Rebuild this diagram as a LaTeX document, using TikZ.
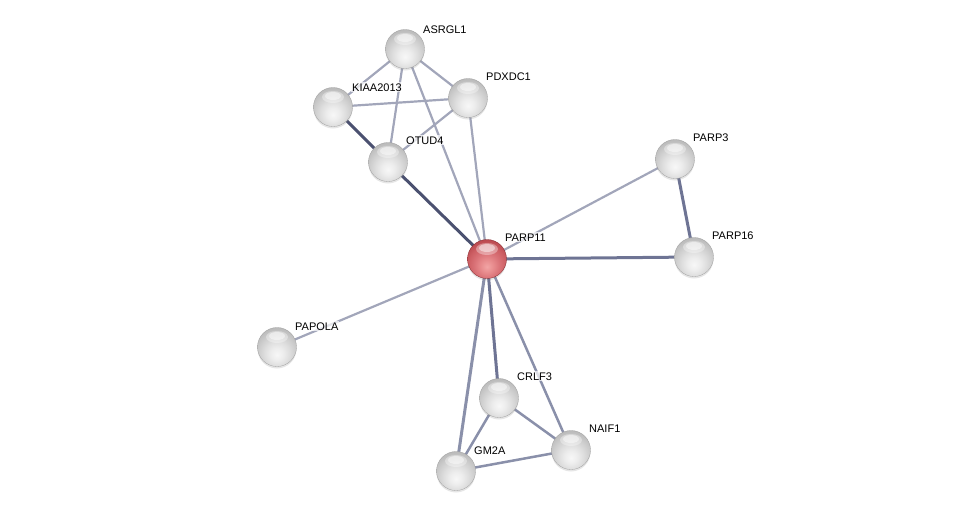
\documentclass[tikz,border=0pt]{standalone}
\usepackage{fontspec}
\setmainfont{Liberation Sans}
\usetikzlibrary{shadows}
\definecolor{edark}{HTML}{4B5170}
\definecolor{emid}{HTML}{6E7494}
\definecolor{elite}{HTML}{8A90AA}
\definecolor{epale}{HTML}{A2A6BA}
\definecolor{rA}{RGB}{242,165,165}
\definecolor{rB}{RGB}{232,140,142}
\definecolor{rC}{RGB}{218,115,120}
\definecolor{rD}{RGB}{205,95,100}
\definecolor{rE}{RGB}{185,72,78}
\definecolor{rF}{RGB}{160,50,58}
\definecolor{rG}{RGB}{135,38,44}
\definecolor{rRim}{RGB}{130,40,45}
\pgfdeclareradialshading{gball}{\pgfpoint{0bp}{-10bp}}{color(0bp)=(gray!6); color(8bp)=(gray!14); color(16bp)=(gray!26); color(24bp)=(gray!40); color(32bp)=(gray!55); color(40bp)=(gray!68); color(100bp)=(gray!75)}
\pgfdeclareradialshading{rball}{\pgfpoint{0bp}{-10bp}}{color(0bp)=(rA); color(8bp)=(rB); color(16bp)=(rC); color(24bp)=(rD); color(32bp)=(rE); color(40bp)=(rF); color(100bp)=(rG)}
\tikzset{
  prot/.style={circle, minimum size=39pt, inner sep=0pt, shading=gball, draw=gray!75, line width=0.3pt,
    drop shadow={shadow xshift=0pt, shadow yshift=-2pt, opacity=0.2, fill=gray},
    path picture={\fill[white, opacity=0.35] ([yshift=10pt]path picture bounding box.center) ellipse (11pt and 6pt);
      \fill[white, opacity=0.45] ([yshift=11pt]path picture bounding box.center) ellipse (8pt and 4pt);}},
  hub/.style={prot, shading=rball, draw=rRim},
  lbl/.style={anchor=base west, font=\fontsize{11}{13}\selectfont, inner sep=1pt, fill=white, fill opacity=0.7, text opacity=1},
  wdark/.style={draw=edark, line width=3pt},
  wmid/.style={draw=emid, line width=3pt},
  wlite/.style={draw=elite, line width=2.5pt},
  wpale/.style={draw=epale, line width=2.2pt},
}
\begin{document}
\begin{tikzpicture}[x=1pt,y=-1pt]
\useasboundingbox (0,0) rectangle (975,517);
\coordinate (cASRGL1) at (405,49);
\coordinate (cPDXDC1) at (468,98);
\coordinate (cKIAA) at (333,107);
\coordinate (cOTUD4) at (388,162);
\coordinate (cPARP3) at (675,159);
\coordinate (cPARP11) at (487,259);
\coordinate (cPARP16) at (694,257);
\coordinate (cPAPOLA) at (277,347);
\coordinate (cCRLF3) at (499,398);
\coordinate (cNAIF1) at (571,450);
\coordinate (cGM2A) at (456,471);
% edges
\draw[wpale] (cASRGL1) -- (cPDXDC1);
\draw[wpale] (cASRGL1) -- (cKIAA);
\draw[wpale] (cASRGL1) -- (cOTUD4);
\draw[wpale] (cASRGL1) -- (cPARP11);
\draw[wpale] (cKIAA) -- (cPDXDC1);
\draw[wpale] (cOTUD4) -- (cPDXDC1);
\draw[wpale] (cPDXDC1) -- (cPARP11);
\draw[wdark] (cKIAA) -- (cOTUD4);
\draw[wdark] (cOTUD4) -- (cPARP11);
\draw[wpale] (cPARP3) -- (cPARP11);
\draw[wpale] (cPAPOLA) -- (cPARP11);
\draw[wmid] (cPARP3) -- (cPARP16);
\draw[wmid] (cPARP16) -- (cPARP11);
\draw[wmid] (cPARP11) -- (cCRLF3);
\draw[wlite, line width=3pt] (cPARP11) -- (cGM2A);
\draw[wlite] (cPARP11) -- (cNAIF1);
\draw[wlite] (cCRLF3) -- (cGM2A);
\draw[wlite] (cCRLF3) -- (cNAIF1);
\draw[wlite] (cGM2A) -- (cNAIF1);
% nodes
\node[prot] (ASRGL1) at (cASRGL1) {};
\node[prot] (PDXDC1) at (cPDXDC1) {};
\node[prot] (KIAA) at (cKIAA) {};
\node[prot] (OTUD4) at (cOTUD4) {};
\node[prot] (PARP3) at (cPARP3) {};
\node[hub] (PARP11) at (cPARP11) {};
\node[prot] (PARP16) at (cPARP16) {};
\node[prot] (PAPOLA) at (cPAPOLA) {};
\node[prot] (CRLF3) at (cCRLF3) {};
\node[prot] (NAIF1) at (cNAIF1) {};
\node[prot] (GM2A) at (cGM2A) {};
% labels
\node[lbl] (lASRGL1) at (422,33) {ASRGL1};
\node[lbl] (lPDXDC1) at (485,80) {PDXDC1};
\node[lbl] (lKIAA) at (351,91) {KIAA2013};
\node[lbl] (lOTUD4) at (405,144) {OTUD4};
\node[lbl] (lPARP3) at (692,141) {PARP3};
\node[lbl] (lPARP11) at (504,241) {PARP11};
\node[lbl] (lPARP16) at (711,239) {PARP16};
\node[lbl] (lPAPOLA) at (294,330) {PAPOLA};
\node[lbl] (lCRLF3) at (516,380) {CRLF3};
\node[lbl] (lNAIF1) at (588,432) {NAIF1};
\node[lbl] (lGM2A) at (473,454) {GM2A};
\end{tikzpicture}
\end{document}
